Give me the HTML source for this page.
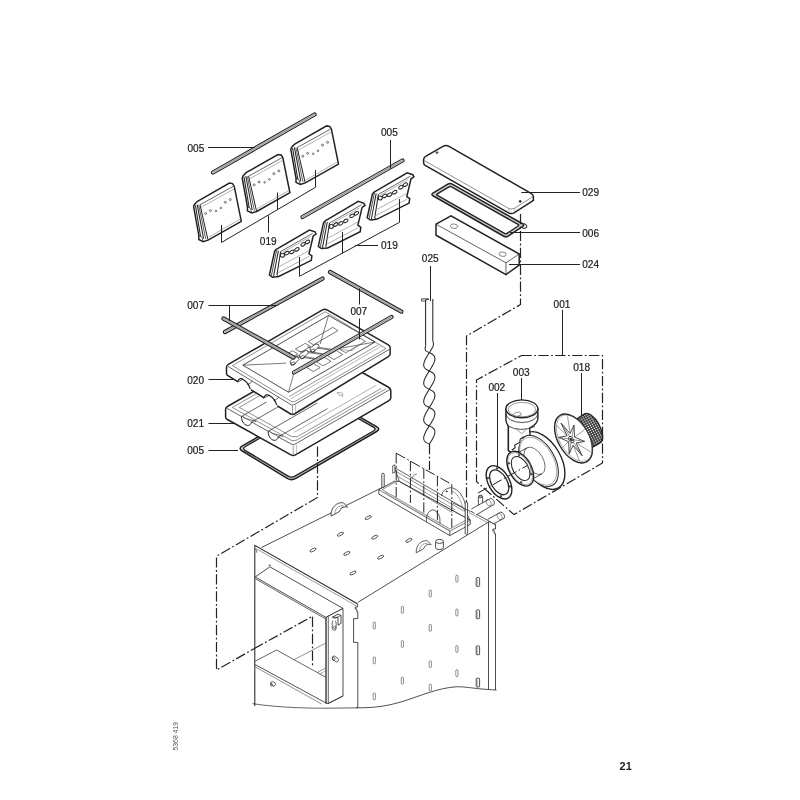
<!DOCTYPE html>
<html><head><meta charset="utf-8"><title>21</title>
<style>
html,body{margin:0;padding:0;background:#fff;}
svg{display:block;font-family:"Liberation Sans",sans-serif;will-change:transform;}
</style></head><body>
<svg width="800" height="800" viewBox="0 0 800 800">
<rect width="800" height="800" fill="#fff"/>
<line x1="213.00" y1="172.50" x2="314.50" y2="114.50" stroke="#222" stroke-width="4.30" stroke-linecap="round"/>
<line x1="213.00" y1="172.50" x2="314.50" y2="114.50" stroke="#d2d2d2" stroke-width="2.10" stroke-linecap="round"/>
<line x1="213.00" y1="172.50" x2="314.50" y2="114.50" stroke="#666" stroke-width="0.60" stroke-linecap="butt"/>
<text x="187.5" y="152.0" font-size="10.1" font-weight="normal" text-anchor="start" fill="#1c1c1c" stroke="#1c1c1c" stroke-width="0.2" >005</text>
<line x1="208.00" y1="147.50" x2="255.00" y2="147.50" stroke="#222" stroke-width="1.0" />
<g transform="translate(97.20 -57.20)">
<path d="M197.50,201.30 L229.40,183.10 L232.50,183.60 L234.20,186.20 L241.30,221.30 L208.10,240.10 L203.10,241.60 L198.80,239.50 L198.80,235.20 L193.60,206.60 L194.60,204.20 Z" fill="#fff" stroke="#222" stroke-width="1.49" />
<line x1="200.00" y1="204.80" x2="233.20" y2="186.40" stroke="#222" stroke-width="0.7" />
<line x1="200.00" y1="204.80" x2="207.90" y2="239.60" stroke="#222" stroke-width="1.0" />
<line x1="201.20" y1="207.30" x2="234.00" y2="189.00" stroke="#666" stroke-width="0.5" />
<line x1="208.60" y1="237.30" x2="240.60" y2="218.90" stroke="#666" stroke-width="0.5" />
<line x1="195.40" y1="205.40" x2="200.60" y2="236.50" stroke="#222" stroke-width="1.03" />
<line x1="197.20" y1="204.60" x2="203.60" y2="238.60" stroke="#222" stroke-width="1.03" />
<line x1="198.70" y1="204.90" x2="205.80" y2="239.30" stroke="#222" stroke-width="0.7" />
<line x1="198.80" y1="235.20" x2="201.80" y2="236.90" stroke="#222" stroke-width="0.7" />
<line x1="201.80" y1="236.90" x2="203.10" y2="241.40" stroke="#222" stroke-width="0.7" />
<ellipse cx="205.60" cy="213.50" rx="1.00" ry="1.00" transform="rotate(0 205.60 213.50)" fill="none" stroke="#222" stroke-width="0.6" />
<ellipse cx="210.40" cy="210.60" rx="1.00" ry="1.00" transform="rotate(0 210.40 210.60)" fill="none" stroke="#222" stroke-width="0.6" />
<ellipse cx="216.00" cy="211.00" rx="0.80" ry="0.80" transform="rotate(0 216.00 211.00)" fill="none" stroke="#222" stroke-width="0.6" />
<ellipse cx="220.80" cy="208.00" rx="0.80" ry="0.80" transform="rotate(0 220.80 208.00)" fill="none" stroke="#222" stroke-width="0.6" />
<ellipse cx="225.30" cy="202.30" rx="1.00" ry="1.00" transform="rotate(0 225.30 202.30)" fill="none" stroke="#222" stroke-width="0.6" />
<ellipse cx="230.30" cy="199.50" rx="1.00" ry="1.00" transform="rotate(0 230.30 199.50)" fill="none" stroke="#222" stroke-width="0.6" />
</g>
<g transform="translate(48.60 -28.60)">
<path d="M197.50,201.30 L229.40,183.10 L232.50,183.60 L234.20,186.20 L241.30,221.30 L208.10,240.10 L203.10,241.60 L198.80,239.50 L198.80,235.20 L193.60,206.60 L194.60,204.20 Z" fill="#fff" stroke="#222" stroke-width="1.49" />
<line x1="200.00" y1="204.80" x2="233.20" y2="186.40" stroke="#222" stroke-width="0.7" />
<line x1="200.00" y1="204.80" x2="207.90" y2="239.60" stroke="#222" stroke-width="1.0" />
<line x1="201.20" y1="207.30" x2="234.00" y2="189.00" stroke="#666" stroke-width="0.5" />
<line x1="208.60" y1="237.30" x2="240.60" y2="218.90" stroke="#666" stroke-width="0.5" />
<line x1="195.40" y1="205.40" x2="200.60" y2="236.50" stroke="#222" stroke-width="1.03" />
<line x1="197.20" y1="204.60" x2="203.60" y2="238.60" stroke="#222" stroke-width="1.03" />
<line x1="198.70" y1="204.90" x2="205.80" y2="239.30" stroke="#222" stroke-width="0.7" />
<line x1="198.80" y1="235.20" x2="201.80" y2="236.90" stroke="#222" stroke-width="0.7" />
<line x1="201.80" y1="236.90" x2="203.10" y2="241.40" stroke="#222" stroke-width="0.7" />
<ellipse cx="205.60" cy="213.50" rx="1.00" ry="1.00" transform="rotate(0 205.60 213.50)" fill="none" stroke="#222" stroke-width="0.6" />
<ellipse cx="210.40" cy="210.60" rx="1.00" ry="1.00" transform="rotate(0 210.40 210.60)" fill="none" stroke="#222" stroke-width="0.6" />
<ellipse cx="216.00" cy="211.00" rx="0.80" ry="0.80" transform="rotate(0 216.00 211.00)" fill="none" stroke="#222" stroke-width="0.6" />
<ellipse cx="220.80" cy="208.00" rx="0.80" ry="0.80" transform="rotate(0 220.80 208.00)" fill="none" stroke="#222" stroke-width="0.6" />
<ellipse cx="225.30" cy="202.30" rx="1.00" ry="1.00" transform="rotate(0 225.30 202.30)" fill="none" stroke="#222" stroke-width="0.6" />
<ellipse cx="230.30" cy="199.50" rx="1.00" ry="1.00" transform="rotate(0 230.30 199.50)" fill="none" stroke="#222" stroke-width="0.6" />
</g>
<g transform="translate(0.00 -0.00)">
<path d="M197.50,201.30 L229.40,183.10 L232.50,183.60 L234.20,186.20 L241.30,221.30 L208.10,240.10 L203.10,241.60 L198.80,239.50 L198.80,235.20 L193.60,206.60 L194.60,204.20 Z" fill="#fff" stroke="#222" stroke-width="1.49" />
<line x1="200.00" y1="204.80" x2="233.20" y2="186.40" stroke="#222" stroke-width="0.7" />
<line x1="200.00" y1="204.80" x2="207.90" y2="239.60" stroke="#222" stroke-width="1.0" />
<line x1="201.20" y1="207.30" x2="234.00" y2="189.00" stroke="#666" stroke-width="0.5" />
<line x1="208.60" y1="237.30" x2="240.60" y2="218.90" stroke="#666" stroke-width="0.5" />
<line x1="195.40" y1="205.40" x2="200.60" y2="236.50" stroke="#222" stroke-width="1.03" />
<line x1="197.20" y1="204.60" x2="203.60" y2="238.60" stroke="#222" stroke-width="1.03" />
<line x1="198.70" y1="204.90" x2="205.80" y2="239.30" stroke="#222" stroke-width="0.7" />
<line x1="198.80" y1="235.20" x2="201.80" y2="236.90" stroke="#222" stroke-width="0.7" />
<line x1="201.80" y1="236.90" x2="203.10" y2="241.40" stroke="#222" stroke-width="0.7" />
<ellipse cx="205.60" cy="213.50" rx="1.00" ry="1.00" transform="rotate(0 205.60 213.50)" fill="none" stroke="#222" stroke-width="0.6" />
<ellipse cx="210.40" cy="210.60" rx="1.00" ry="1.00" transform="rotate(0 210.40 210.60)" fill="none" stroke="#222" stroke-width="0.6" />
<ellipse cx="216.00" cy="211.00" rx="0.80" ry="0.80" transform="rotate(0 216.00 211.00)" fill="none" stroke="#222" stroke-width="0.6" />
<ellipse cx="220.80" cy="208.00" rx="0.80" ry="0.80" transform="rotate(0 220.80 208.00)" fill="none" stroke="#222" stroke-width="0.6" />
<ellipse cx="225.30" cy="202.30" rx="1.00" ry="1.00" transform="rotate(0 225.30 202.30)" fill="none" stroke="#222" stroke-width="0.6" />
<ellipse cx="230.30" cy="199.50" rx="1.00" ry="1.00" transform="rotate(0 230.30 199.50)" fill="none" stroke="#222" stroke-width="0.6" />
</g>
<path d="M221.50,225.00 L221.50,242.50 L315.50,187.30 L315.50,170.00" fill="none" stroke="#222" stroke-width="1.0" />
<line x1="277.50" y1="192.50" x2="277.50" y2="209.60" stroke="#222" stroke-width="1.0" />
<line x1="268.50" y1="215.60" x2="268.50" y2="232.50" stroke="#222" stroke-width="1.0" />
<text x="259.8" y="244.89999999999998" font-size="10.1" font-weight="normal" text-anchor="start" fill="#1c1c1c" stroke="#1c1c1c" stroke-width="0.2" >019</text>
<line x1="302.50" y1="217.00" x2="402.50" y2="160.50" stroke="#222" stroke-width="4.30" stroke-linecap="round"/>
<line x1="302.50" y1="217.00" x2="402.50" y2="160.50" stroke="#d2d2d2" stroke-width="2.10" stroke-linecap="round"/>
<line x1="302.50" y1="217.00" x2="402.50" y2="160.50" stroke="#666" stroke-width="0.60" stroke-linecap="butt"/>
<text x="381" y="136.0" font-size="10.1" font-weight="normal" text-anchor="start" fill="#1c1c1c" stroke="#1c1c1c" stroke-width="0.2" >005</text>
<line x1="390.50" y1="140.00" x2="390.50" y2="168.50" stroke="#222" stroke-width="1.0" />
<g transform="translate(97.80 -57.20)">
<path d="M276.30,249.40 L309.40,230.00 L315.00,231.90 L316.10,234.00 L313.20,236.00 L309.00,253.80 L311.90,255.90 L311.30,260.30 L278.80,276.50 L272.50,277.20 L269.40,275.00 L274.60,251.40 Z" fill="#fff" stroke="#222" stroke-width="1.49" />
<line x1="280.60" y1="251.60" x2="312.60" y2="233.40" stroke="#222" stroke-width="0.7" />
<line x1="280.60" y1="251.60" x2="276.90" y2="275.20" stroke="#222" stroke-width="1.03" />
<line x1="278.40" y1="250.60" x2="273.60" y2="276.20" stroke="#222" stroke-width="1.03" />
<line x1="276.60" y1="250.40" x2="271.40" y2="275.60" stroke="#222" stroke-width="0.8" />
<line x1="276.90" y1="275.20" x2="278.80" y2="276.50" stroke="#222" stroke-width="0.7" />
<line x1="278.20" y1="272.60" x2="309.40" y2="256.30" stroke="#666" stroke-width="0.5" />
<line x1="279.40" y1="266.50" x2="309.20" y2="250.50" stroke="#666" stroke-width="0.5" />
<ellipse cx="282.40" cy="255.20" rx="2.00" ry="2.00" transform="rotate(0 282.40 255.20)" fill="none" stroke="#222" stroke-width="1.03" />
<ellipse cx="286.90" cy="253.10" rx="2.40" ry="1.50" transform="rotate(-30 286.90 253.10)" fill="none" stroke="#222" stroke-width="1.03" />
<ellipse cx="291.90" cy="251.90" rx="2.40" ry="1.50" transform="rotate(-30 291.90 251.90)" fill="none" stroke="#222" stroke-width="1.03" />
<ellipse cx="296.90" cy="249.40" rx="2.40" ry="1.50" transform="rotate(-30 296.90 249.40)" fill="none" stroke="#222" stroke-width="1.03" />
<ellipse cx="303.10" cy="244.40" rx="2.40" ry="1.50" transform="rotate(-30 303.10 244.40)" fill="none" stroke="#222" stroke-width="1.03" />
<ellipse cx="307.50" cy="241.90" rx="2.40" ry="1.50" transform="rotate(-30 307.50 241.90)" fill="none" stroke="#222" stroke-width="1.03" />
<line x1="283.00" y1="252.20" x2="310.50" y2="236.60" stroke="#666" stroke-width="0.5" />
</g>
<g transform="translate(48.90 -28.60)">
<path d="M276.30,249.40 L309.40,230.00 L315.00,231.90 L316.10,234.00 L313.20,236.00 L309.00,253.80 L311.90,255.90 L311.30,260.30 L278.80,276.50 L272.50,277.20 L269.40,275.00 L274.60,251.40 Z" fill="#fff" stroke="#222" stroke-width="1.49" />
<line x1="280.60" y1="251.60" x2="312.60" y2="233.40" stroke="#222" stroke-width="0.7" />
<line x1="280.60" y1="251.60" x2="276.90" y2="275.20" stroke="#222" stroke-width="1.03" />
<line x1="278.40" y1="250.60" x2="273.60" y2="276.20" stroke="#222" stroke-width="1.03" />
<line x1="276.60" y1="250.40" x2="271.40" y2="275.60" stroke="#222" stroke-width="0.8" />
<line x1="276.90" y1="275.20" x2="278.80" y2="276.50" stroke="#222" stroke-width="0.7" />
<line x1="278.20" y1="272.60" x2="309.40" y2="256.30" stroke="#666" stroke-width="0.5" />
<line x1="279.40" y1="266.50" x2="309.20" y2="250.50" stroke="#666" stroke-width="0.5" />
<ellipse cx="282.40" cy="255.20" rx="2.00" ry="2.00" transform="rotate(0 282.40 255.20)" fill="none" stroke="#222" stroke-width="1.03" />
<ellipse cx="286.90" cy="253.10" rx="2.40" ry="1.50" transform="rotate(-30 286.90 253.10)" fill="none" stroke="#222" stroke-width="1.03" />
<ellipse cx="291.90" cy="251.90" rx="2.40" ry="1.50" transform="rotate(-30 291.90 251.90)" fill="none" stroke="#222" stroke-width="1.03" />
<ellipse cx="296.90" cy="249.40" rx="2.40" ry="1.50" transform="rotate(-30 296.90 249.40)" fill="none" stroke="#222" stroke-width="1.03" />
<ellipse cx="303.10" cy="244.40" rx="2.40" ry="1.50" transform="rotate(-30 303.10 244.40)" fill="none" stroke="#222" stroke-width="1.03" />
<ellipse cx="307.50" cy="241.90" rx="2.40" ry="1.50" transform="rotate(-30 307.50 241.90)" fill="none" stroke="#222" stroke-width="1.03" />
<line x1="283.00" y1="252.20" x2="310.50" y2="236.60" stroke="#666" stroke-width="0.5" />
</g>
<g transform="translate(0.00 -0.00)">
<path d="M276.30,249.40 L309.40,230.00 L315.00,231.90 L316.10,234.00 L313.20,236.00 L309.00,253.80 L311.90,255.90 L311.30,260.30 L278.80,276.50 L272.50,277.20 L269.40,275.00 L274.60,251.40 Z" fill="#fff" stroke="#222" stroke-width="1.49" />
<line x1="280.60" y1="251.60" x2="312.60" y2="233.40" stroke="#222" stroke-width="0.7" />
<line x1="280.60" y1="251.60" x2="276.90" y2="275.20" stroke="#222" stroke-width="1.03" />
<line x1="278.40" y1="250.60" x2="273.60" y2="276.20" stroke="#222" stroke-width="1.03" />
<line x1="276.60" y1="250.40" x2="271.40" y2="275.60" stroke="#222" stroke-width="0.8" />
<line x1="276.90" y1="275.20" x2="278.80" y2="276.50" stroke="#222" stroke-width="0.7" />
<line x1="278.20" y1="272.60" x2="309.40" y2="256.30" stroke="#666" stroke-width="0.5" />
<line x1="279.40" y1="266.50" x2="309.20" y2="250.50" stroke="#666" stroke-width="0.5" />
<ellipse cx="282.40" cy="255.20" rx="2.00" ry="2.00" transform="rotate(0 282.40 255.20)" fill="none" stroke="#222" stroke-width="1.03" />
<ellipse cx="286.90" cy="253.10" rx="2.40" ry="1.50" transform="rotate(-30 286.90 253.10)" fill="none" stroke="#222" stroke-width="1.03" />
<ellipse cx="291.90" cy="251.90" rx="2.40" ry="1.50" transform="rotate(-30 291.90 251.90)" fill="none" stroke="#222" stroke-width="1.03" />
<ellipse cx="296.90" cy="249.40" rx="2.40" ry="1.50" transform="rotate(-30 296.90 249.40)" fill="none" stroke="#222" stroke-width="1.03" />
<ellipse cx="303.10" cy="244.40" rx="2.40" ry="1.50" transform="rotate(-30 303.10 244.40)" fill="none" stroke="#222" stroke-width="1.03" />
<ellipse cx="307.50" cy="241.90" rx="2.40" ry="1.50" transform="rotate(-30 307.50 241.90)" fill="none" stroke="#222" stroke-width="1.03" />
<line x1="283.00" y1="252.20" x2="310.50" y2="236.60" stroke="#666" stroke-width="0.5" />
</g>
<path d="M299.50,257.00 L299.50,276.30 L399.50,222.30 L399.50,199.00" fill="none" stroke="#222" stroke-width="1.0" />
<line x1="342.50" y1="232.00" x2="342.50" y2="253.20" stroke="#222" stroke-width="1.0" />
<line x1="355.00" y1="245.50" x2="378.00" y2="245.50" stroke="#222" stroke-width="1.0" />
<text x="381" y="249.29999999999998" font-size="10.1" font-weight="normal" text-anchor="start" fill="#1c1c1c" stroke="#1c1c1c" stroke-width="0.2" >019</text>
<path d="M432.97,195.74 Q430.80,194.50 432.93,193.20 L447.87,184.10 Q450.00,182.80 452.18,184.03 L522.62,223.77 Q524.80,225.00 522.72,226.38 L508.08,236.12 Q506.00,237.50 503.83,236.26 Z" fill="#cfcfcf" stroke="#222" stroke-width="1.49" />
<path d="M437.31,195.44 Q436.00,194.70 437.28,193.92 L448.92,186.88 Q450.20,186.10 451.51,186.84 L518.09,224.46 Q519.40,225.20 518.15,226.03 L507.05,233.37 Q505.80,234.20 504.49,233.46 Z" fill="#fff" stroke="#222" stroke-width="1.38" />
<path d="M523.5,223.5 q4,1.2 3.2,3.6 q-1,2 -4.5,0.6" fill="none" stroke="#222" stroke-width="1.03" />
<path d="M423.6,160 Q423.4,157.6 426,156.2 L443,146.4 Q446,144.8 449,146.4 L531,193.4 Q533.6,195 533.4,197 L533.4,200.4 L514.5,212.6 Q511.5,214.4 508.5,212.8 L425.2,165.4 Q423.6,164.4 423.6,162.4 Z" fill="#fff" stroke="#222" stroke-width="1.49" />
<path d="M424.4,160.6 L508.6,208.4 Q511.6,209.8 514.6,208.2 L533,196.6" fill="none" stroke="#444" stroke-width="0.6" />
<line x1="509.00" y1="208.80" x2="509.00" y2="212.80" stroke="#666" stroke-width="0.5" />
<line x1="514.80" y1="208.40" x2="514.80" y2="212.40" stroke="#666" stroke-width="0.5" />
<ellipse cx="437.00" cy="152.60" rx="1.10" ry="0.80" transform="rotate(0 437.00 152.60)" fill="#888" stroke="#222" stroke-width="0.7" />
<ellipse cx="520.20" cy="201.40" rx="1.00" ry="0.90" transform="rotate(0 520.20 201.40)" fill="#222" stroke="#222" stroke-width="0.8" />
<line x1="521.30" y1="192.50" x2="580.00" y2="192.50" stroke="#222" stroke-width="1.0" />
<text x="582.2" y="196.39999999999998" font-size="10.1" font-weight="normal" text-anchor="start" fill="#1c1c1c" stroke="#1c1c1c" stroke-width="0.2" >029</text>
<line x1="510.00" y1="232.50" x2="580.00" y2="232.50" stroke="#222" stroke-width="1.0" />
<text x="582.2" y="236.6" font-size="10.1" font-weight="normal" text-anchor="start" fill="#1c1c1c" stroke="#1c1c1c" stroke-width="0.2" >006</text>
<path d="M436.00,224.20 L451.00,215.80 L519.20,254.00 L519.20,265.00 L506.00,274.60 L436.00,235.20 Z" fill="#fff" stroke="#222" stroke-width="1.49" />
<path d="M436.00,224.20 L506.00,262.80 L519.20,254.00" fill="none" stroke="#222" stroke-width="0.7" />
<line x1="506.00" y1="262.80" x2="506.00" y2="274.60" stroke="#222" stroke-width="0.7" />
<ellipse cx="454.00" cy="226.20" rx="3.60" ry="2.20" transform="rotate(8 454.00 226.20)" fill="none" stroke="#555" stroke-width="0.7" />
<ellipse cx="502.60" cy="254.20" rx="3.60" ry="2.20" transform="rotate(8 502.60 254.20)" fill="none" stroke="#555" stroke-width="0.7" />
<line x1="509.00" y1="264.50" x2="580.00" y2="264.50" stroke="#222" stroke-width="1.0" />
<text x="582.2" y="268.4" font-size="10.1" font-weight="normal" text-anchor="start" fill="#1c1c1c" stroke="#1c1c1c" stroke-width="0.2" >024</text>
<path d="M520.5,214 V304.5 L466.5,336 V502" fill="none" stroke="#222" stroke-width="1.2" stroke-dasharray="10.2 2.5 1.8 2.4"/>
<text x="421.8" y="262.0" font-size="10.1" font-weight="normal" text-anchor="start" fill="#1c1c1c" stroke="#1c1c1c" stroke-width="0.2" >025</text>
<line x1="430.50" y1="266.00" x2="430.50" y2="301.00" stroke="#222" stroke-width="1.0" />
<path d="M421.60,298.80 L428.60,298.80 L428.60,299.60 L425.80,299.60 L425.80,301.00 L421.60,301.00 Z" fill="#fff" stroke="#222" stroke-width="0.8" />
<line x1="425.60" y1="300.00" x2="425.60" y2="345.50" stroke="#222" stroke-width="1.03" />
<line x1="432.80" y1="299.00" x2="432.80" y2="341.60" stroke="#222" stroke-width="1.03" />
<path d="M432.88,341.53 L433.07,341.93 L433.23,342.34 L433.35,342.77 L433.43,343.23 L433.47,343.71 L433.46,344.21 L433.41,344.74 L433.31,345.30 L433.16,345.88 L432.95,346.49 L432.58,347.19 L432.18,347.91 L431.76,348.65 L431.32,349.39 L430.87,350.14 L430.40,350.90 L429.92,351.66 L429.44,352.42 L428.96,353.18 L428.49,353.95 L428.01,354.71 L427.55,355.46 L427.10,356.21 L426.67,356.95 L426.25,357.68 L425.86,358.39 L425.50,359.09 L425.16,359.78 L424.85,360.45 L424.57,361.10 L424.33,361.73 L424.13,362.34 L423.97,362.93 L423.84,363.50 L423.75,364.05 L423.71,364.58 L423.70,365.08 L423.74,365.56 L423.82,366.01 L423.94,366.45 L424.09,366.86 L424.29,367.26 L424.52,367.63 L424.79,367.98 L425.09,368.31 L425.43,368.63 L425.79,368.93 L426.17,369.22 L426.58,369.49 L427.01,369.76 L427.46,370.01 L427.92,370.26 L428.39,370.50 L428.87,370.74 L429.35,370.97 L429.83,371.21 L430.30,371.45 L430.77,371.69 L431.23,371.94 L431.67,372.19 L432.10,372.46 L432.51,372.74 L432.89,373.03 L433.24,373.33 L433.57,373.65 L433.86,373.99 L434.13,374.35 L434.35,374.72 L434.54,375.12 L434.69,375.54 L434.80,375.97 L434.87,376.44 L434.90,376.92 L434.89,377.43 L434.83,377.96 L434.74,378.51 L434.60,379.08 L434.43,379.68 L434.22,380.29 L433.97,380.93 L433.69,381.58 L433.38,382.26 L433.03,382.95 L432.66,383.65 L432.26,384.37 L431.85,385.10 L431.41,385.84 L430.96,386.59 L430.49,387.34 L430.02,388.10 L429.54,388.87 L429.06,389.63 L428.58,390.40 L428.11,391.16 L427.64,391.91 L427.19,392.66 L426.75,393.40 L426.34,394.13 L425.94,394.85 L425.57,395.55 L425.22,396.24 L424.91,396.92 L424.63,397.57 L424.38,398.21 L424.17,398.82 L424.00,399.42 L423.86,399.99 L423.77,400.54 L423.71,401.07 L423.70,401.58 L423.73,402.06 L423.80,402.53 L423.91,402.96 L424.06,403.38 L424.25,403.78 L424.47,404.15 L424.74,404.51 L425.03,404.85 L425.36,405.17 L425.71,405.47 L426.09,405.76 L426.50,406.04 L426.93,406.31 L427.37,406.56 L427.83,406.81 L428.30,407.05 L428.77,407.29 L429.25,407.53 L429.73,407.76 L430.21,408.00 L430.68,408.24 L431.14,408.49 L431.59,408.74 L432.02,409.01 L432.43,409.28 L432.81,409.57 L433.17,409.87 L433.51,410.19 L433.81,410.52 L434.08,410.87 L434.31,411.24 L434.51,411.64 L434.66,412.05 L434.78,412.49 L434.86,412.94 L434.90,413.42 L434.89,413.92 L434.85,414.45 L434.76,415.00 L434.63,415.57 L434.47,416.16 L434.27,416.77 L434.03,417.40 L433.75,418.05 L433.44,418.72 L433.10,419.41 L432.74,420.11 L432.35,420.82 L431.93,421.55 L431.50,422.29 L431.05,423.04 L430.59,423.79 L430.11,424.55 L429.64,425.32 L429.16,426.08 L428.68,426.84 L428.20,427.60 L427.73,428.36 L427.28,429.11 L426.84,429.85 L426.42,430.59 L426.02,431.31 L425.64,432.01 L425.29,432.71 L424.97,433.38 L424.68,434.04 L424.43,434.68 L424.21,435.30 L424.03,435.90 L423.88,436.48 L423.78,437.03 L423.72,437.57 L423.70,438.08 L423.72,438.57 L423.78,439.03 L423.88,439.48 L424.03,439.90 L424.21,440.30 L424.43,440.68 L424.68,441.04 L424.97,441.38 L425.29,441.71 L425.64,442.01 L426.02,442.31 L426.42,442.59 L426.84,442.85 L427.28,443.11 L427.73,443.36 L428.20,443.60 L428.68,443.84 L429.16,444.08" fill="none" stroke="#222" stroke-width="1.03" />
<path d="M425.72,345.47 L425.53,346.07 L425.37,346.66 L425.25,347.23 L425.17,347.77 L425.13,348.29 L425.14,348.79 L425.19,349.26 L425.29,349.70 L425.44,350.12 L425.65,350.51 L426.02,350.81 L426.42,351.09 L426.84,351.35 L427.28,351.61 L427.73,351.86 L428.20,352.10 L428.68,352.34 L429.16,352.58 L429.64,352.82 L430.11,353.05 L430.59,353.29 L431.05,353.54 L431.50,353.79 L431.93,354.05 L432.35,354.32 L432.74,354.61 L433.10,354.91 L433.44,355.22 L433.75,355.55 L434.03,355.90 L434.27,356.27 L434.47,356.66 L434.63,357.07 L434.76,357.50 L434.85,357.95 L434.89,358.42 L434.90,358.92 L434.86,359.44 L434.78,359.99 L434.66,360.55 L434.51,361.14 L434.31,361.74 L434.08,362.37 L433.81,363.02 L433.51,363.69 L433.17,364.37 L432.81,365.07 L432.43,365.78 L432.02,366.51 L431.59,367.24 L431.14,367.99 L430.68,368.74 L430.21,369.50 L429.73,370.26 L429.25,371.03 L428.77,371.79 L428.30,372.55 L427.83,373.31 L427.37,374.06 L426.93,374.81 L426.50,375.54 L426.09,376.26 L425.71,376.97 L425.36,377.67 L425.03,378.35 L424.74,379.01 L424.47,379.65 L424.25,380.28 L424.06,380.88 L423.91,381.46 L423.80,382.03 L423.73,382.56 L423.70,383.08 L423.71,383.57 L423.77,384.04 L423.86,384.49 L424.00,384.92 L424.17,385.32 L424.38,385.71 L424.63,386.07 L424.91,386.42 L425.22,386.74 L425.57,387.05 L425.94,387.35 L426.34,387.63 L426.75,387.90 L427.19,388.16 L427.64,388.41 L428.11,388.66 L428.58,388.90 L429.06,389.13 L429.54,389.37 L430.02,389.60 L430.49,389.84 L430.96,390.09 L431.41,390.34 L431.85,390.60 L432.26,390.87 L432.66,391.15 L433.03,391.45 L433.38,391.76 L433.69,392.08 L433.97,392.43 L434.22,392.79 L434.43,393.18 L434.60,393.58 L434.74,394.01 L434.83,394.46 L434.89,394.93 L434.90,395.42 L434.87,395.94 L434.80,396.47 L434.69,397.04 L434.54,397.62 L434.35,398.22 L434.13,398.85 L433.86,399.49 L433.57,400.15 L433.24,400.83 L432.89,401.53 L432.51,402.24 L432.10,402.96 L431.67,403.69 L431.23,404.44 L430.77,405.19 L430.30,405.95 L429.83,406.71 L429.35,407.47 L428.87,408.24 L428.39,409.00 L427.92,409.76 L427.46,410.51 L427.01,411.26 L426.58,411.99 L426.17,412.72 L425.79,413.43 L425.43,414.13 L425.09,414.81 L424.79,415.48 L424.52,416.13 L424.29,416.76 L424.09,417.36 L423.94,417.95 L423.82,418.51 L423.74,419.06 L423.70,419.58 L423.71,420.08 L423.75,420.55 L423.84,421.00 L423.97,421.43 L424.13,421.84 L424.33,422.23 L424.57,422.60 L424.85,422.95 L425.16,423.28 L425.50,423.59 L425.86,423.89 L426.25,424.18 L426.67,424.45 L427.10,424.71 L427.55,424.96 L428.01,425.21 L428.49,425.45 L428.96,425.68 L429.44,425.92 L429.92,426.16 L430.40,426.40 L430.87,426.64 L431.32,426.89 L431.76,427.15 L432.18,427.41 L432.58,427.69 L432.96,427.99 L433.31,428.29 L433.63,428.62 L433.92,428.96 L434.17,429.32 L434.39,429.70 L434.57,430.10 L434.72,430.52 L434.82,430.97 L434.88,431.43 L434.90,431.92 L434.88,432.43 L434.82,432.97 L434.72,433.52 L434.57,434.10 L434.39,434.70 L434.17,435.32 L433.92,435.96 L433.63,436.62 L433.31,437.29 L432.96,437.99 L432.58,438.69 L432.18,439.41 L431.76,440.15 L431.32,440.89 L430.87,441.64 L430.40,442.40 L429.92,443.16 L429.44,443.92" fill="none" stroke="#222" stroke-width="1.03" />
<path d="M429.5,444 V470" fill="none" stroke="#222" stroke-width="1.2" stroke-dasharray="10.2 2.5 1.8 2.4"/>
<line x1="330.00" y1="272.00" x2="401.40" y2="311.60" stroke="#222" stroke-width="4.30" stroke-linecap="round"/>
<line x1="330.00" y1="272.00" x2="401.40" y2="311.60" stroke="#d2d2d2" stroke-width="2.10" stroke-linecap="round"/>
<line x1="330.00" y1="272.00" x2="401.40" y2="311.60" stroke="#666" stroke-width="0.60" stroke-linecap="butt"/>
<line x1="225.00" y1="332.00" x2="322.50" y2="278.60" stroke="#222" stroke-width="4.30" stroke-linecap="round"/>
<line x1="225.00" y1="332.00" x2="322.50" y2="278.60" stroke="#d2d2d2" stroke-width="2.10" stroke-linecap="round"/>
<line x1="225.00" y1="332.00" x2="322.50" y2="278.60" stroke="#666" stroke-width="0.60" stroke-linecap="butt"/>
<text x="187.2" y="309.3" font-size="10.1" font-weight="normal" text-anchor="start" fill="#1c1c1c" stroke="#1c1c1c" stroke-width="0.2" >007</text>
<text x="350.4" y="315.3" font-size="10.1" font-weight="normal" text-anchor="start" fill="#1c1c1c" stroke="#1c1c1c" stroke-width="0.2" >007</text>
<text x="187.2" y="383.5" font-size="10.1" font-weight="normal" text-anchor="start" fill="#1c1c1c" stroke="#1c1c1c" stroke-width="0.2" >020</text>
<line x1="208.50" y1="379.50" x2="235.50" y2="379.50" stroke="#222" stroke-width="1.0" />
<text x="187.2" y="427.09999999999997" font-size="10.1" font-weight="normal" text-anchor="start" fill="#1c1c1c" stroke="#1c1c1c" stroke-width="0.2" >021</text>
<line x1="208.50" y1="423.50" x2="235.00" y2="423.50" stroke="#222" stroke-width="1.0" />
<text x="187.2" y="454.09999999999997" font-size="10.1" font-weight="normal" text-anchor="start" fill="#1c1c1c" stroke="#1c1c1c" stroke-width="0.2" >005</text>
<line x1="208.50" y1="450.50" x2="238.00" y2="450.50" stroke="#222" stroke-width="1.0" />
<path d="M242.27,451.00 Q238.00,448.40 242.33,445.91 L321.67,400.29 Q326.00,397.80 330.35,400.27 L376.55,426.53 Q380.90,429.00 376.58,431.51 L295.82,478.39 Q291.50,480.90 287.23,478.30 Z" fill="#cfcfcf" stroke="#222" stroke-width="1.49" />
<path d="M245.33,450.55 Q241.90,448.50 245.37,446.51 L322.53,402.29 Q326.00,400.30 329.48,402.26 L373.42,427.04 Q376.90,429.00 373.43,430.99 L294.97,476.11 Q291.50,478.10 288.07,476.05 Z" fill="#fff" stroke="#222" stroke-width="1.38" />
<path d="M225.6,409.1 Q225.6,407.6 227.85,406.25 L321.75,352.35 Q324,351 326.25,352.35 L388.55,387.25 Q390.8,388.6 390.8,390.40000000000003 L390.8,398.1 Q390.8,399.6 388.55,400.95000000000005 L295.45,454.84999999999997 Q293.2,456.2 290.95,454.84999999999997 L227.4,419.5 Q225.6,418.6 225.6,417.1 Z" fill="#fff" stroke="#222" stroke-width="1.49" />
<path d="M226.95,408.35 L292.19,444.64 L294.68,444.35 L390.62,389.17" fill="none" stroke="#222" stroke-width="0.7" />
<line x1="293.20" y1="445.60" x2="293.20" y2="456.00" stroke="#555" stroke-width="0.6" />
<line x1="296.40" y1="444.60" x2="296.40" y2="455.00" stroke="#777" stroke-width="0.5" />
<path d="M232.42,407.50 L291.91,440.59 L296.40,440.30 L385.94,388.79" fill="none" stroke="#444" stroke-width="0.6" />
<path d="M239.25,407.40 L291.98,436.73 L297.63,436.53 L381.27,388.42" fill="none" stroke="#444" stroke-width="0.6" />
<path d="M239.25,407.40 L281.56,383.06" fill="none" stroke="#444" stroke-width="0.6" />
<path d="M232.42,407.50 L278.18,381.18" fill="none" stroke="#444" stroke-width="0.6" />
<line x1="294.19" y1="432.39" x2="375.86" y2="385.41" stroke="#666" stroke-width="0.5" />
<path d="M241.49,416.44 C240.99,424.44 249.63,429.08 251.63,422.08" fill="#fff" stroke="#222" stroke-width="1.0" />
<line x1="241.49" y1="416.44" x2="290.69" y2="388.14" stroke="#222" stroke-width="0.7" />
<line x1="251.63" y1="422.08" x2="300.83" y2="393.78" stroke="#222" stroke-width="0.7" />
<path d="M242.49,415.94 C244.49,419.44 253.81,420.11 256.31,421.81" fill="none" stroke="#222" stroke-width="0.7" />
<path d="M268.19,431.29 C267.69,439.29 276.33,443.93 278.33,436.93" fill="#fff" stroke="#222" stroke-width="1.0" />
<line x1="268.19" y1="431.29" x2="317.39" y2="402.99" stroke="#222" stroke-width="0.7" />
<line x1="278.33" y1="436.93" x2="327.53" y2="408.63" stroke="#222" stroke-width="0.7" />
<path d="M269.19,430.79 C271.19,434.29 280.51,434.96 283.01,436.66" fill="none" stroke="#222" stroke-width="0.7" />
<path d="M337,392.5 q1.5,3.5 6,3.8 l-0.8,-3.2 z" fill="none" stroke="#555" stroke-width="0.5" />
<path d="M226.5,367.0 Q226.5,365.5 228.75,364.15 L322.5,309.85 Q324.75,308.5 327.0,309.85 L387.95,344.65 Q390.2,346 390.2,347.8 L390.2,354.0 Q390.2,355.5 387.95,356.85 L294.75,413.75 Q292.5,415.1 290.25,413.75 L228.3,375.9 Q226.5,375.0 226.5,373.5 Z" fill="#fff" stroke="#222" stroke-width="1.49" />
<path d="M227.82,366.30 L291.51,405.00 L293.97,404.75 L389.77,349.17" fill="none" stroke="#222" stroke-width="0.7" />
<line x1="292.50" y1="406.00" x2="292.50" y2="415.00" stroke="#555" stroke-width="0.6" />
<line x1="295.60" y1="404.80" x2="295.60" y2="413.60" stroke="#777" stroke-width="0.5" />
<path d="M232.42,365.59 L291.82,401.68 L294.61,401.63 L385.98,348.62 L325.26,311.73 Z" fill="none" stroke="#444" stroke-width="0.6" />
<path d="M242.87,365.18 L328.54,315.47 L375.09,342.01 L288.54,392.22 Z" fill="none" stroke="#222" stroke-width="0.8" />
<path d="M289.15,396.57 L378.56,344.70" fill="none" stroke="#555" stroke-width="0.6" />
<path d="M290.81,398.74 L381.20,346.30" fill="none" stroke="#777" stroke-width="0.5" />
<line x1="242.87" y1="365.18" x2="285.98" y2="363.13" stroke="#222" stroke-width="0.6" />
<line x1="328.54" y1="315.47" x2="320.05" y2="344.15" stroke="#222" stroke-width="0.6" />
<line x1="375.09" y1="342.01" x2="329.95" y2="350.17" stroke="#222" stroke-width="0.6" />
<line x1="288.54" y1="392.22" x2="294.58" y2="370.69" stroke="#222" stroke-width="0.6" />
<path d="M285.60,354.73 L292.48,350.74 L297.76,353.95 L290.88,357.94 Z" fill="none" stroke="#222" stroke-width="0.6" />
<path d="M295.43,349.03 L305.25,343.33 L310.53,346.54 L300.71,352.24 Z" fill="none" stroke="#222" stroke-width="0.6" />
<path d="M308.20,341.62 L332.76,327.37 L338.04,330.58 L313.48,344.83 Z" fill="none" stroke="#222" stroke-width="0.6" />
<path d="M306.72,367.56 L313.60,363.57 L320.20,367.58 L313.32,371.57 Z" fill="none" stroke="#222" stroke-width="0.6" />
<path d="M316.55,361.86 L324.41,357.30 L331.00,361.31 L323.14,365.87 Z" fill="none" stroke="#222" stroke-width="0.6" />
<path d="M327.35,355.59 L336.19,350.46 L342.79,354.47 L333.95,359.60 Z" fill="none" stroke="#222" stroke-width="0.6" />
<path d="M339.14,348.75 L358.79,337.35 L365.39,341.36 L345.74,352.76 Z" fill="none" stroke="#222" stroke-width="0.6" />
<line x1="291.52" y1="356.00" x2="313.57" y2="358.89" stroke="#222" stroke-width="0.6" />
<line x1="296.45" y1="355.49" x2="315.07" y2="358.29" stroke="#222" stroke-width="0.6" />
<line x1="299.38" y1="351.44" x2="321.43" y2="354.33" stroke="#222" stroke-width="0.6" />
<line x1="304.31" y1="350.93" x2="322.93" y2="353.73" stroke="#222" stroke-width="0.6" />
<line x1="307.25" y1="346.88" x2="329.29" y2="349.77" stroke="#222" stroke-width="0.6" />
<line x1="312.17" y1="346.37" x2="330.79" y2="349.17" stroke="#222" stroke-width="0.6" />
<path d="M290.5,364.0 q-1.5,-3 1.5,-4.5 l4,-2.5 q3,-0.5 3,2.5 l-4.5,4.5 q-2,2 -4,0 z" fill="#fff" stroke="#222" stroke-width="0.8" />
<ellipse cx="293.00" cy="363.70" rx="2.40" ry="1.40" transform="rotate(-20 293.00 363.70)" fill="none" stroke="#222" stroke-width="0.6" />
<path d="M300,357.5 q-1.5,-3 1.5,-4.5 l4,-2.5 q3,-0.5 3,2.5 l-4.5,4.5 q-2,2 -4,0 z" fill="#fff" stroke="#222" stroke-width="0.8" />
<ellipse cx="302.50" cy="357.20" rx="2.40" ry="1.40" transform="rotate(-20 302.50 357.20)" fill="none" stroke="#222" stroke-width="0.6" />
<path d="M310.5,351.0 q-1.5,-3 1.5,-4.5 l4,-2.5 q3,-0.5 3,2.5 l-4.5,4.5 q-2,2 -4,0 z" fill="#fff" stroke="#222" stroke-width="0.8" />
<ellipse cx="313.00" cy="350.70" rx="2.40" ry="1.40" transform="rotate(-20 313.00 350.70)" fill="none" stroke="#222" stroke-width="0.6" />
<path d="M340,349.5 l12,1.2 l6,-5" fill="none" stroke="#666" stroke-width="0.5" />
<path d="M237.42,382.72 L237.72,381.92 C238.72,374.42 248.76,381.54 250.26,389.54 L250.56,390.44" fill="#fff" stroke="#222" stroke-width="1.26" />
<path d="M237.72,381.92 l5,-2.6 M247.26,384.54 q3.5,-0.5 5,-3.6" fill="none" stroke="#222" stroke-width="0.7" />
<line x1="237.22" y1="382.82" x2="250.76" y2="390.74" stroke="#fff" stroke-width="2.53" />
<path d="M263.82,398.76 L264.12,397.96 C265.12,390.46 275.16,397.58 276.66,405.58 L276.96,406.48" fill="#fff" stroke="#222" stroke-width="1.26" />
<path d="M264.12,397.96 l5,-2.6 M273.66,400.58 q3.5,-0.5 5,-3.6" fill="none" stroke="#222" stroke-width="0.7" />
<line x1="263.62" y1="398.86" x2="277.16" y2="406.78" stroke="#fff" stroke-width="2.53" />
<line x1="294.00" y1="372.50" x2="391.50" y2="317.00" stroke="#222" stroke-width="4.30" stroke-linecap="round"/>
<line x1="294.00" y1="372.50" x2="391.50" y2="317.00" stroke="#d2d2d2" stroke-width="2.10" stroke-linecap="round"/>
<line x1="294.00" y1="372.50" x2="391.50" y2="317.00" stroke="#666" stroke-width="0.60" stroke-linecap="butt"/>
<line x1="223.50" y1="318.50" x2="293.40" y2="357.50" stroke="#222" stroke-width="4.30" stroke-linecap="round"/>
<line x1="223.50" y1="318.50" x2="293.40" y2="357.50" stroke="#d2d2d2" stroke-width="2.10" stroke-linecap="round"/>
<line x1="223.50" y1="318.50" x2="293.40" y2="357.50" stroke="#666" stroke-width="0.60" stroke-linecap="butt"/>
<line x1="208.50" y1="305.50" x2="277.50" y2="305.50" stroke="#222" stroke-width="1.0" />
<line x1="229.50" y1="305.00" x2="229.50" y2="321.00" stroke="#222" stroke-width="1.0" />
<line x1="359.50" y1="288.50" x2="359.50" y2="304.50" stroke="#222" stroke-width="1.0" />
<line x1="359.50" y1="318.50" x2="359.50" y2="339.50" stroke="#222" stroke-width="1.0" />
<path d="M521.5,355.5 H602.5 V463 L514,514.6 L476.5,481.6 V380 Z" fill="none" stroke="#222" stroke-width="1.2" stroke-dasharray="10.2 2.5 1.8 2.4"/>
<text x="553.6" y="307.7" font-size="10.1" font-weight="normal" text-anchor="start" fill="#1c1c1c" stroke="#1c1c1c" stroke-width="0.2" >001</text>
<line x1="562.50" y1="309.80" x2="562.50" y2="355.00" stroke="#222" stroke-width="1.0" />
<text x="573.2" y="371.09999999999997" font-size="10.1" font-weight="normal" text-anchor="start" fill="#1c1c1c" stroke="#1c1c1c" stroke-width="0.2" >018</text>
<line x1="581.50" y1="373.00" x2="581.50" y2="422.00" stroke="#222" stroke-width="1.0" />
<text x="512.8" y="376.09999999999997" font-size="10.1" font-weight="normal" text-anchor="start" fill="#1c1c1c" stroke="#1c1c1c" stroke-width="0.2" >003</text>
<line x1="521.50" y1="378.00" x2="521.50" y2="402.50" stroke="#222" stroke-width="1.0" />
<text x="488.4" y="391.09999999999997" font-size="10.1" font-weight="normal" text-anchor="start" fill="#1c1c1c" stroke="#1c1c1c" stroke-width="0.2" >002</text>
<line x1="497.50" y1="393.00" x2="497.50" y2="467.00" stroke="#222" stroke-width="1.0" />
<defs><pattern id="mesh" width="2.3" height="2.3" patternUnits="userSpaceOnUse" patternTransform="rotate(-28)"><rect width="2.3" height="2.3" fill="#fff"/><path d="M0,0.6 H2.3 M0.6,0 V2.3" stroke="#222" stroke-width="1.0"/></pattern></defs>
<path d="M577,418.8 L584.6,413.8 Q587.5,412.6 591,415 Q600.5,422 602.6,436 Q603,441 599.6,443.2 L592,447.5 Z" fill="url(#mesh)" stroke="#222" stroke-width="1.38" />
<ellipse cx="573.50" cy="438.50" rx="15.46" ry="26.80" transform="rotate(-30 573.50 438.50)" fill="#fff" stroke="#222" stroke-width="1.38" />
<ellipse cx="574.30" cy="438.10" rx="14.66" ry="25.40" transform="rotate(-30 574.30 438.10)" fill="none" stroke="#666" stroke-width="0.5" />
<path d="M561.04,423.07 L570.03,433.51 L573.99,425.11 L574.55,437.04 L584.55,441.44 L576.13,442.94 L582.16,455.73 L573.17,445.29 L569.21,453.69 L568.65,441.76 L558.65,437.36 L567.07,435.86 Z" fill="none" stroke="#222" stroke-width="0.8" />
<line x1="571.60" y1="439.40" x2="561.04" y2="423.07" stroke="#444" stroke-width="0.6" />
<line x1="570.03" y1="433.51" x2="567.57" y2="416.28" stroke="#555" stroke-width="0.6" />
<line x1="571.60" y1="439.40" x2="573.99" y2="425.11" stroke="#444" stroke-width="0.6" />
<line x1="574.55" y1="437.04" x2="584.63" y2="429.61" stroke="#555" stroke-width="0.6" />
<line x1="571.60" y1="439.40" x2="584.55" y2="441.44" stroke="#444" stroke-width="0.6" />
<line x1="576.13" y1="442.94" x2="590.56" y2="451.83" stroke="#555" stroke-width="0.6" />
<line x1="571.60" y1="439.40" x2="582.16" y2="455.73" stroke="#444" stroke-width="0.6" />
<line x1="573.17" y1="445.29" x2="579.43" y2="460.72" stroke="#555" stroke-width="0.6" />
<line x1="571.60" y1="439.40" x2="569.21" y2="453.69" stroke="#444" stroke-width="0.6" />
<line x1="568.65" y1="441.76" x2="562.37" y2="447.39" stroke="#555" stroke-width="0.6" />
<line x1="571.60" y1="439.40" x2="558.65" y2="437.36" stroke="#444" stroke-width="0.6" />
<line x1="567.07" y1="435.86" x2="556.44" y2="425.17" stroke="#555" stroke-width="0.6" />
<ellipse cx="571.20" cy="439.60" rx="2.08" ry="3.60" transform="rotate(-30 571.20 439.60)" fill="#fff" stroke="#222" stroke-width="0.8" />
<ellipse cx="571.20" cy="439.60" rx="0.92" ry="1.60" transform="rotate(-30 571.20 439.60)" fill="#444" stroke="#222" stroke-width="0.8" />
<ellipse cx="542.60" cy="460.60" rx="18.23" ry="31.60" transform="rotate(-30 542.60 460.60)" fill="#fff" stroke="#222" stroke-width="1.38" />
<path d="M505.9,409 V420 Q506.2,423.5 508.4,426.2 V450.5 L514,455 L531,441 L529.8,433 V428 Q537.6,424 537.9,418.5 V409 Z" fill="#fff" stroke="#222" stroke-width="1.38" />
<ellipse cx="521.90" cy="408.80" rx="16.00" ry="8.90" transform="rotate(0 521.90 408.80)" fill="#fff" stroke="#222" stroke-width="1.38" />
<ellipse cx="521.90" cy="409.60" rx="13.80" ry="7.20" transform="rotate(0 521.90 409.60)" fill="none" stroke="#555" stroke-width="0.6" />
<path d="M505.9,413.6 A16,8.9 0 0 0 537.9,413.6" fill="none" stroke="#222" stroke-width="0.8" />
<path d="M512,415.5 q3,-4 8,-3.5 l1.5,3 q-4,0 -6,3.2 z" fill="none" stroke="#555" stroke-width="0.6" />
<path d="M508.4,426.2 Q520,432.5 535,426.5" fill="none" stroke="#222" stroke-width="0.8" />
<path d="M515.5,428.4 L521.5,433.6 L526.8,429.2" fill="none" stroke="#555" stroke-width="0.6" />
<ellipse cx="538.60" cy="461.00" rx="16.16" ry="28.00" transform="rotate(-30 538.60 461.00)" fill="#fff" stroke="#222" stroke-width="1.0" />
<ellipse cx="538.20" cy="461.20" rx="15.12" ry="26.20" transform="rotate(-30 538.20 461.20)" fill="none" stroke="#666" stroke-width="0.5" />
<path d="M509,427.5 V450 L513.6,454 L518.5,446 L520.6,441.5 L523.2,437 Q520,433 512,429.5 Z" fill="#fff" stroke="#fff" stroke-width="0.1" />
<path d="M508.4,426.2 V450.5 L510.8,452.4" fill="none" stroke="#222" stroke-width="1.38" />
<path d="M523.6,436.6 l-3.4,2.4 l-0.4,3.2 l-5.2,3 l0.6,2.6 l-3.4,2.2" fill="none" stroke="#222" stroke-width="1.03" />
<ellipse cx="534.50" cy="460.80" rx="8.65" ry="15.00" transform="rotate(-30 534.50 460.80)" fill="none" stroke="#444" stroke-width="0.7" />
<line x1="513.50" y1="455.41" x2="527.00" y2="447.81" stroke="#222" stroke-width="0.8" />
<line x1="528.50" y1="481.39" x2="542.00" y2="473.79" stroke="#222" stroke-width="0.8" />
<ellipse cx="520.20" cy="468.70" rx="10.96" ry="19.00" transform="rotate(-30 520.20 468.70)" fill="#fff" stroke="#222" stroke-width="1.38" />
<ellipse cx="520.20" cy="468.70" rx="10.16" ry="17.60" transform="rotate(-30 520.20 468.70)" fill="none" stroke="#666" stroke-width="0.5" />
<ellipse cx="520.60" cy="468.50" rx="7.62" ry="13.20" transform="rotate(-30 520.60 468.50)" fill="#fff" stroke="#222" stroke-width="1.0" />
<path d="M526.6,457.8 Q532.6,462.5 530.2,476" fill="none" stroke="#555" stroke-width="0.6" />
<path d="M525.5,460.5 q3,3 2.6,8" fill="none" stroke="#777" stroke-width="0.5" />
<ellipse cx="531.47" cy="474.07" rx="0.80" ry="0.80" transform="rotate(0 531.47 474.07)" fill="#444" stroke="#222" stroke-width="0.6" />
<ellipse cx="521.19" cy="482.28" rx="0.80" ry="0.80" transform="rotate(0 521.19 482.28)" fill="#444" stroke="#222" stroke-width="0.6" />
<ellipse cx="508.93" cy="463.33" rx="0.80" ry="0.80" transform="rotate(0 508.93 463.33)" fill="#444" stroke="#222" stroke-width="0.6" />
<ellipse cx="519.21" cy="455.12" rx="0.80" ry="0.80" transform="rotate(0 519.21 455.12)" fill="#444" stroke="#222" stroke-width="0.6" />
<ellipse cx="499.00" cy="482.30" rx="10.50" ry="18.20" transform="rotate(-30 499.00 482.30)" fill="#fff" stroke="#222" stroke-width="1.38" />
<ellipse cx="499.20" cy="482.30" rx="7.85" ry="13.60" transform="rotate(-30 499.20 482.30)" fill="#fff" stroke="#222" stroke-width="1.26" />
<ellipse cx="510.07" cy="486.44" rx="0.80" ry="0.80" transform="rotate(0 510.07 486.44)" fill="#333" stroke="#222" stroke-width="0.6" />
<ellipse cx="500.96" cy="496.21" rx="0.80" ry="0.80" transform="rotate(0 500.96 496.21)" fill="#333" stroke="#222" stroke-width="0.6" />
<ellipse cx="487.93" cy="478.16" rx="0.80" ry="0.80" transform="rotate(0 487.93 478.16)" fill="#333" stroke="#222" stroke-width="0.6" />
<ellipse cx="497.04" cy="468.39" rx="0.80" ry="0.80" transform="rotate(0 497.04 468.39)" fill="#333" stroke="#222" stroke-width="0.6" />
<path d="M478,493 L527.5,465.4" fill="none" stroke="#222" stroke-width="1.0" stroke-dasharray="10.2 2.5 1.8 2.4"/>
<path d="M317.5,446.5 V497.5 L216.5,556.2 V670 L254,648.8" fill="none" stroke="#222" stroke-width="1.2" stroke-dasharray="10.2 2.5 1.8 2.4"/>
<path d="M254.80,545.30 L261.50,547.50 L384.00,486.60 L404.30,475.20 L495.50,524.50 L495.50,690.00 L476.00,689.00 L458.00,686.00 L430.00,692.00 L404.00,701.00 L385.00,706.50 L358.00,707.60 L254.80,706.00 Z" fill="#fff" stroke="#fff" stroke-width="0.1" />
<line x1="261.50" y1="547.50" x2="384.50" y2="486.40" stroke="#222" stroke-width="0.8" />
<line x1="357.80" y1="602.40" x2="488.50" y2="522.00" stroke="#222" stroke-width="0.8" />
<line x1="470.80" y1="511.20" x2="495.50" y2="524.60" stroke="#222" stroke-width="0.8" />
<line x1="469.00" y1="512.60" x2="488.50" y2="523.20" stroke="#555" stroke-width="0.6" />
<path d="M488.5,521.5 V689.6 M495.5,524.6 V529 h-2.6 v2 h1.4 v2.6 h1.2 V690" fill="none" stroke="#222" stroke-width="0.8" />
<line x1="488.50" y1="521.20" x2="495.50" y2="524.60" stroke="#222" stroke-width="0.8" />
<path d="M356,707.8 C375,708 388,706 404,701 C420,696 438,688 456,686.8 C466,686.4 474,689 496.5,690" fill="none" stroke="#222" stroke-width="0.8" />
<path d="M254.8,706 V545.3 L357.4,603.8" fill="none" stroke="#222" stroke-width="1.03" />
<path d="M255.6,548.4 L356.6,606" fill="none" stroke="#555" stroke-width="0.6" />
<path d="M255.2,549.5 l1.4,0.6 v2.6" fill="none" stroke="#222" stroke-width="0.6" />
<path d="M357.6,603.8 V607 h-2.4 v2 h1.6 v2.8 h1 V618.6 h-4.2 V642.4 h4.2 V707.6" fill="none" stroke="#222" stroke-width="0.8" />
<ellipse cx="368.20" cy="517.60" rx="3.40" ry="1.30" transform="rotate(-27 368.20 517.60)" fill="none" stroke="#222" stroke-width="0.7" />
<ellipse cx="340.40" cy="534.20" rx="3.40" ry="1.30" transform="rotate(-27 340.40 534.20)" fill="none" stroke="#222" stroke-width="0.7" />
<ellipse cx="374.60" cy="537.20" rx="3.40" ry="1.30" transform="rotate(-27 374.60 537.20)" fill="none" stroke="#222" stroke-width="0.7" />
<ellipse cx="408.80" cy="540.40" rx="3.40" ry="1.30" transform="rotate(-27 408.80 540.40)" fill="none" stroke="#222" stroke-width="0.7" />
<ellipse cx="313.00" cy="550.00" rx="3.40" ry="1.30" transform="rotate(-27 313.00 550.00)" fill="none" stroke="#222" stroke-width="0.7" />
<ellipse cx="346.80" cy="553.40" rx="3.40" ry="1.30" transform="rotate(-27 346.80 553.40)" fill="none" stroke="#222" stroke-width="0.7" />
<ellipse cx="380.60" cy="557.20" rx="3.40" ry="1.30" transform="rotate(-27 380.60 557.20)" fill="none" stroke="#222" stroke-width="0.7" />
<ellipse cx="353.00" cy="573.00" rx="3.40" ry="1.30" transform="rotate(-27 353.00 573.00)" fill="none" stroke="#222" stroke-width="0.7" />
<rect x="373.2" y="622.1" width="2.2" height="6.8" rx="0.8" fill="none" stroke="#444" stroke-width="0.6"/>
<rect x="373.2" y="657.0" width="2.2" height="6.8" rx="0.8" fill="none" stroke="#444" stroke-width="0.6"/>
<rect x="373.2" y="693.0" width="2.2" height="6.8" rx="0.8" fill="none" stroke="#444" stroke-width="0.6"/>
<rect x="401.3" y="606.4" width="2.2" height="6.8" rx="0.8" fill="none" stroke="#444" stroke-width="0.6"/>
<rect x="401.3" y="640.6" width="2.2" height="6.8" rx="0.8" fill="none" stroke="#444" stroke-width="0.6"/>
<rect x="401.3" y="677.2" width="2.2" height="6.8" rx="0.8" fill="none" stroke="#444" stroke-width="0.6"/>
<rect x="429.2" y="590.1" width="2.2" height="6.8" rx="0.8" fill="none" stroke="#444" stroke-width="0.6"/>
<rect x="429.2" y="624.4" width="2.2" height="6.8" rx="0.8" fill="none" stroke="#444" stroke-width="0.6"/>
<rect x="429.2" y="660.8" width="2.2" height="6.8" rx="0.8" fill="none" stroke="#444" stroke-width="0.6"/>
<rect x="429.2" y="684.1" width="2.2" height="6.8" rx="0.8" fill="none" stroke="#444" stroke-width="0.6"/>
<rect x="455.8" y="575.3" width="2.2" height="6.8" rx="0.8" fill="none" stroke="#444" stroke-width="0.6"/>
<rect x="455.8" y="609.1" width="2.2" height="6.8" rx="0.8" fill="none" stroke="#444" stroke-width="0.6"/>
<rect x="455.8" y="645.6" width="2.2" height="6.8" rx="0.8" fill="none" stroke="#444" stroke-width="0.6"/>
<rect x="455.8" y="669.8" width="2.2" height="6.8" rx="0.8" fill="none" stroke="#444" stroke-width="0.6"/>
<rect x="476.2" y="577.6" width="3.4" height="8.8" rx="0.8" fill="none" stroke="#222" stroke-width="0.8"/>
<line x1="477.40" y1="578.80" x2="477.40" y2="586.20" stroke="#666" stroke-width="0.5" />
<rect x="476.2" y="609.9" width="3.4" height="8.8" rx="0.8" fill="none" stroke="#222" stroke-width="0.8"/>
<line x1="477.40" y1="611.10" x2="477.40" y2="618.50" stroke="#666" stroke-width="0.5" />
<rect x="476.2" y="645.9" width="3.4" height="8.8" rx="0.8" fill="none" stroke="#222" stroke-width="0.8"/>
<line x1="477.40" y1="647.10" x2="477.40" y2="654.50" stroke="#666" stroke-width="0.5" />
<rect x="476.2" y="678.2" width="3.4" height="8.8" rx="0.8" fill="none" stroke="#222" stroke-width="0.8"/>
<line x1="477.40" y1="679.40" x2="477.40" y2="686.80" stroke="#666" stroke-width="0.5" />
<g transform="translate(331 502.6) scale(1.0)">
<path d="M0,13.5 C-0.5,5 6,-1 12.5,0.2 L16.5,4.6 C12,3.4 9,5.6 8.8,8.6 L3.8,11.6 Z" fill="#fff" stroke="#222" stroke-width="0.8" />
<path d="M3.8,11.6 C3.6,5.8 8,2.6 12.6,3.2" fill="none" stroke="#555" stroke-width="0.6" />
</g>
<g transform="translate(416.2 540.6) scale(0.9)">
<path d="M0,13.5 C-0.5,5 6,-1 12.5,0.2 L16.5,4.6 C12,3.4 9,5.6 8.8,8.6 L3.8,11.6 Z" fill="#fff" stroke="#222" stroke-width="0.8" />
<path d="M3.8,11.6 C3.6,5.8 8,2.6 12.6,3.2" fill="none" stroke="#555" stroke-width="0.6" />
</g>
<path d="M435.6,541.6 v6 a3.9,2 0 0 0 7.8,0 v-6" fill="#fff" stroke="#222" stroke-width="0.8" />
<ellipse cx="439.50" cy="541.40" rx="3.90" ry="2.00" transform="rotate(0 439.50 541.40)" fill="#fff" stroke="#222" stroke-width="0.8" />
<path d="M255.20,577.00 L269.80,566.80 L343.00,608.40 L326.00,617.40 Z" fill="#fff" stroke="#222" stroke-width="0.8" />
<line x1="255.20" y1="578.60" x2="325.40" y2="618.80" stroke="#222" stroke-width="0.7" />
<path d="M268.6,566 l1.2,-1.4 l1,1.6" fill="none" stroke="#222" stroke-width="0.7" />
<path d="M326.00,617.40 L343.00,608.40 L343.00,696.00 L328.40,703.40 L326.00,703.40 Z" fill="#fff" stroke="#222" stroke-width="0.8" />
<line x1="328.30" y1="616.60" x2="328.30" y2="703.40" stroke="#222" stroke-width="0.7" />
<line x1="326.00" y1="617.40" x2="326.00" y2="703.40" stroke="#222" stroke-width="0.8" />
<path d="M332.4,617.2 l5.6,-3 l3,1.2 v8 l-3,1.8 v-7.8 z" fill="#fff" stroke="#222" stroke-width="0.8" />
<path d="M332.4,617.2 l2.6,1.2 l6,-3" fill="none" stroke="#222" stroke-width="0.6" />
<path d="M333,620.6 q-1,1 -0.8,4.2 l0.2,4.6 q1.6,2.2 3.6,0 l0.2,-4.6 q0,-2.6 -0.8,-4" fill="#fff" stroke="#222" stroke-width="0.7" />
<ellipse cx="334.60" cy="627.40" rx="1.10" ry="1.30" transform="rotate(0 334.60 627.40)" fill="none" stroke="#222" stroke-width="0.6" />
<path d="M332.4,657.4 q0.2,-1.6 2,-1.4 l3.6,2.4 q1,1.2 0,3 l-1.6,0.6 l-3.6,-2.4 z" fill="#fff" stroke="#222" stroke-width="0.7" />
<ellipse cx="333.60" cy="658.80" rx="1.20" ry="1.80" transform="rotate(-20 333.60 658.80)" fill="none" stroke="#222" stroke-width="0.6" />
<line x1="255.20" y1="661.20" x2="276.50" y2="650.00" stroke="#222" stroke-width="0.7" />
<line x1="276.50" y1="650.00" x2="325.40" y2="677.00" stroke="#222" stroke-width="0.7" />
<line x1="293.40" y1="660.00" x2="325.60" y2="643.20" stroke="#444" stroke-width="0.6" />
<line x1="317.00" y1="672.60" x2="325.60" y2="668.00" stroke="#444" stroke-width="0.6" />
<line x1="319.50" y1="674.00" x2="325.60" y2="671.00" stroke="#666" stroke-width="0.5" />
<line x1="255.20" y1="664.60" x2="326.00" y2="703.00" stroke="#222" stroke-width="0.8" />
<line x1="255.20" y1="666.90" x2="321.60" y2="704.00" stroke="#444" stroke-width="0.6" />
<path d="M270.4,683.4 q0.4,-2 2.4,-1.8 l2.2,1.2 q1,1.4 0,2.8 l-1.8,0.8 z" fill="#fff" stroke="#222" stroke-width="0.7" />
<ellipse cx="271.60" cy="684.80" rx="1.10" ry="1.50" transform="rotate(-20 271.60 684.80)" fill="none" stroke="#222" stroke-width="0.6" />
<path d="M252.6,703.6 C270,706.6 300,708.4 328,708.2 L358,707.8" fill="none" stroke="#222" stroke-width="0.7" />
<line x1="328.40" y1="703.40" x2="343.00" y2="696.00" stroke="#222" stroke-width="0.7" />
<path d="M254,648.8 L312.5,616.2 V666" fill="none" stroke="#222" stroke-width="1.2" stroke-dasharray="10.2 2.5 1.8 2.4"/>
<path d="M394.80,467.70 L463.00,507.60 L470.20,520.20 L399.40,481.50 Z" fill="#fff" stroke="#222" stroke-width="0.7" />
<line x1="396.40" y1="471.60" x2="463.60" y2="511.00" stroke="#444" stroke-width="0.6" />
<path d="M392.70,465.80 L394.90,464.80 L394.90,472.40 L392.70,473.20 Z" fill="#fff" stroke="#222" stroke-width="0.7" />
<path d="M378.80,489.70 L394.40,481.20 L399.40,481.50 L470.20,520.20 L470.20,524.40 L449.80,535.60 L378.80,494.10 Z" fill="#fff" stroke="#222" stroke-width="0.8" />
<path d="M378.80,489.70 L449.80,531.20 L470.20,520.20" fill="none" stroke="#222" stroke-width="0.6" />
<line x1="449.80" y1="531.20" x2="449.80" y2="535.60" stroke="#222" stroke-width="0.7" />
<path d="M382.20,489.60 L398.00,480.60 L452.60,512.60" fill="none" stroke="#444" stroke-width="0.6" />
<path d="M382.20,489.60 L450.00,529.00 L466.80,519.60" fill="none" stroke="#444" stroke-width="0.6" />
<line x1="384.40" y1="492.20" x2="450.40" y2="530.80" stroke="#777" stroke-width="0.5" />
<line x1="398.00" y1="476.60" x2="455.00" y2="509.80" stroke="#555" stroke-width="0.6" />
<path d="M412,479.4 q0.6,-5 4.8,-5.4" fill="none" stroke="#444" stroke-width="0.7" />
<path d="M441.5,496 q1,-7.4 9.5,-8.4" fill="none" stroke="#333" stroke-width="0.8" />
<ellipse cx="446.80" cy="491.40" rx="0.70" ry="0.70" transform="rotate(0 446.80 491.40)" fill="#333" stroke="#222" stroke-width="0.5" />
<path d="M452.5,487.8 q9,2.6 13.4,17.6" fill="none" stroke="#333" stroke-width="0.8" />
<path d="M452.2,491.2 q7,3 10.6,15.8" fill="none" stroke="#666" stroke-width="0.6" />
<path d="M426.4,521.6 q-0.6,-9.8 6,-11.8 q5.6,0.6 7.4,8 l0.2,5.6" fill="none" stroke="#333" stroke-width="0.8" />
<path d="M381.8,474.2 V486.6 a1.2,0.7 0 0 0 2.4,0 V474.2 a1.2,0.9 0 0 0 -2.4,0" fill="#fff" stroke="#222" stroke-width="0.8" />
<path d="M396.2,453.2 L451.8,484.4" fill="none" stroke="#222" stroke-width="1.0" stroke-dasharray="10.2 2.5 1.8 2.4"/>
<path d="M396.2,453.2 V498.2" fill="none" stroke="#222" stroke-width="1.0" stroke-dasharray="10.2 2.5 1.8 2.4"/>
<path d="M410.4,461 V503" fill="none" stroke="#222" stroke-width="1.0" stroke-dasharray="10.2 2.5 1.8 2.4"/>
<path d="M423.8,468.6 V513.6" fill="none" stroke="#222" stroke-width="1.0" stroke-dasharray="10.2 2.5 1.8 2.4"/>
<path d="M437.4,476.2 V521.7" fill="none" stroke="#222" stroke-width="1.0" stroke-dasharray="10.2 2.5 1.8 2.4"/>
<path d="M451.8,484.4 V527.4" fill="none" stroke="#222" stroke-width="1.0" stroke-dasharray="10.2 2.5 1.8 2.4"/>
<path d="M465.2,503 V533.6 a1.2,0.7 0 0 0 2.4,0 V503 a1.2,0.9 0 0 0 -2.4,0" fill="#fff" stroke="#222" stroke-width="0.8" />
<path d="M478.4,496.6 V507.4 a2.1,1.1 0 0 0 4.2,0 V496.6" fill="#fff" stroke="#222" stroke-width="0.8" />
<ellipse cx="480.50" cy="496.40" rx="2.10" ry="1.20" transform="rotate(0 480.50 496.40)" fill="#fff" stroke="#222" stroke-width="0.8" />
<ellipse cx="480.50" cy="496.40" rx="1.10" ry="0.60" transform="rotate(0 480.50 496.40)" fill="none" stroke="#222" stroke-width="0.5" />
<path d="M471.4,509 L490.6,498.4 a2.2,3.6 -30 0 1 3.4,6 L476,515" fill="#fff" stroke="#222" stroke-width="0.8" />
<ellipse cx="488.60" cy="502.60" rx="2.20" ry="3.60" transform="rotate(-30 488.60 502.60)" fill="none" stroke="#555" stroke-width="0.6" />
<path d="M487.6,519.4 L500.6,512.2 a2.2,3.6 -30 0 1 3.6,6 L494,523.6" fill="#fff" stroke="#222" stroke-width="0.8" />
<ellipse cx="499.60" cy="516.40" rx="2.20" ry="3.60" transform="rotate(-30 499.60 516.40)" fill="none" stroke="#555" stroke-width="0.6" />
<line x1="453.00" y1="503.00" x2="470.60" y2="511.60" stroke="#222" stroke-width="0.7" />
<text x="619.6" y="769.8" font-size="10.9" font-weight="bold" fill="#1a1a1a">21</text>
<text transform="translate(178,750.6) rotate(-90)" font-size="6.9" fill="#555">5368 419</text>
</svg>
</body></html>
